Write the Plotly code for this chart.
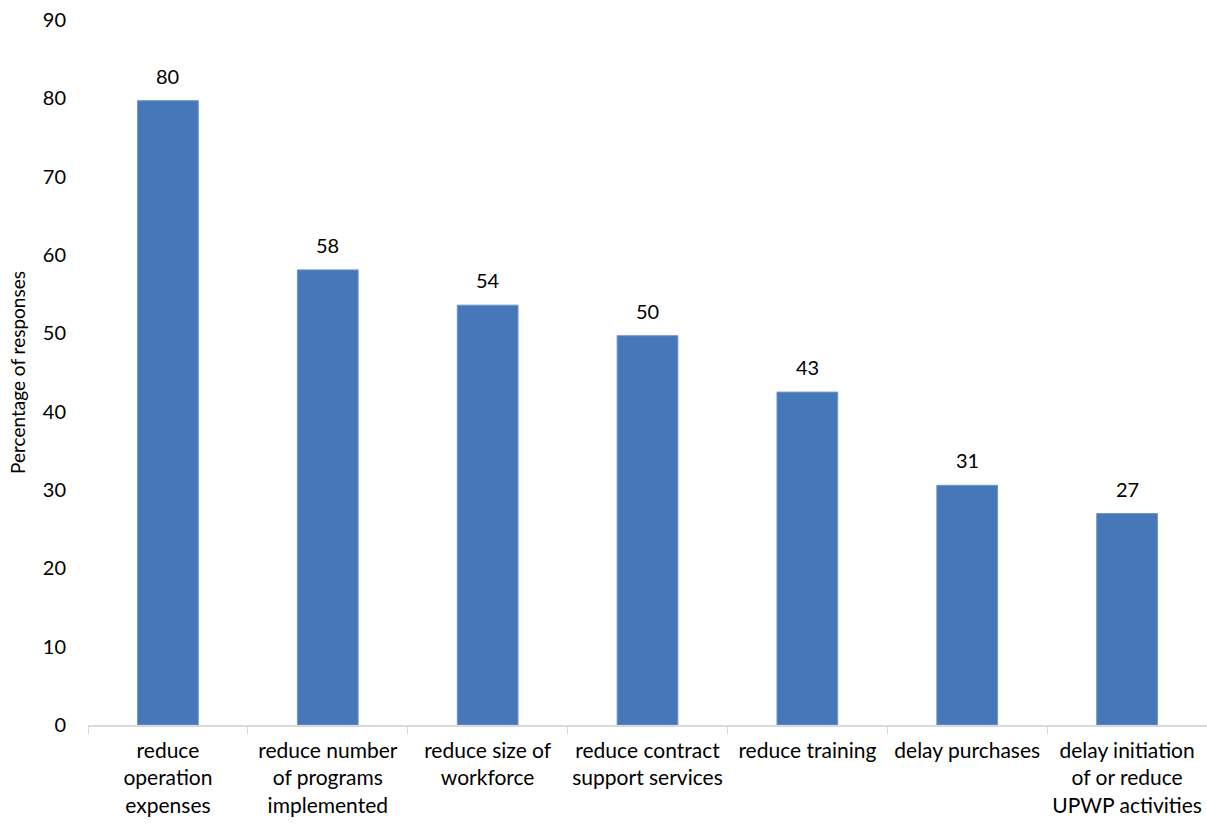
import plotly.graph_objects as go

categories = [
    "reduce<br>operation<br>expenses",
    "reduce number<br>of programs<br>implemented",
    "reduce size of<br>workforce",
    "reduce contract<br>support services",
    "reduce training",
    "delay purchases",
    "delay initiation<br>of or reduce<br>UPWP activities",
]
values = [79.7, 58.1, 53.6, 49.7, 42.5, 30.6, 27.0]
labels = ["80", "58", "54", "50", "43", "31", "27"]
y_ticks = [0, 10, 20, 30, 40, 50, 60, 70, 80, 90]

FONT = "Lato, Open Sans, sans-serif"

fig = go.Figure()
fig.add_trace(go.Bar(
    x=categories, y=values,
    marker=dict(color="#4677B8", line=dict(color="#6F97CC", width=1)),
    width=0.38,
    hoverinfo="skip",
))

for c, v, t in zip(categories, values, labels):
    fig.add_annotation(x=c, y=v, text=t, showarrow=False, yanchor="bottom",
                       yshift=11, font=dict(family=FONT, size=20, color="#000000"))

fig.update_layout(
    width=1207, height=825,
    margin=dict(l=88, r=0, t=20, b=100),
    paper_bgcolor="white", plot_bgcolor="white",
    showlegend=False,
    font=dict(family=FONT, size=18, color="#000000"),
)
fig.update_xaxes(
    showline=True, linecolor="#D9D9D9", linewidth=1.5,
    ticks="outside", tickson="boundaries", ticklen=7, tickcolor="#D9D9D9",
    ticklabelstandoff=6,
    tickfont=dict(family=FONT, size=21, color="#000000"),
    showgrid=False,
)
fig.update_yaxes(
    range=[0, 90], tickvals=y_ticks, showgrid=False, showline=False,
    zeroline=False, ticks="", ticklabelstandoff=21,
    tickfont=dict(family=FONT, size=20, color="#000000"),
    title=dict(text="Percentage of responses", standoff=12,
               font=dict(family=FONT, size=19, color="#000000")),
)

fig.write_html("out.html")
